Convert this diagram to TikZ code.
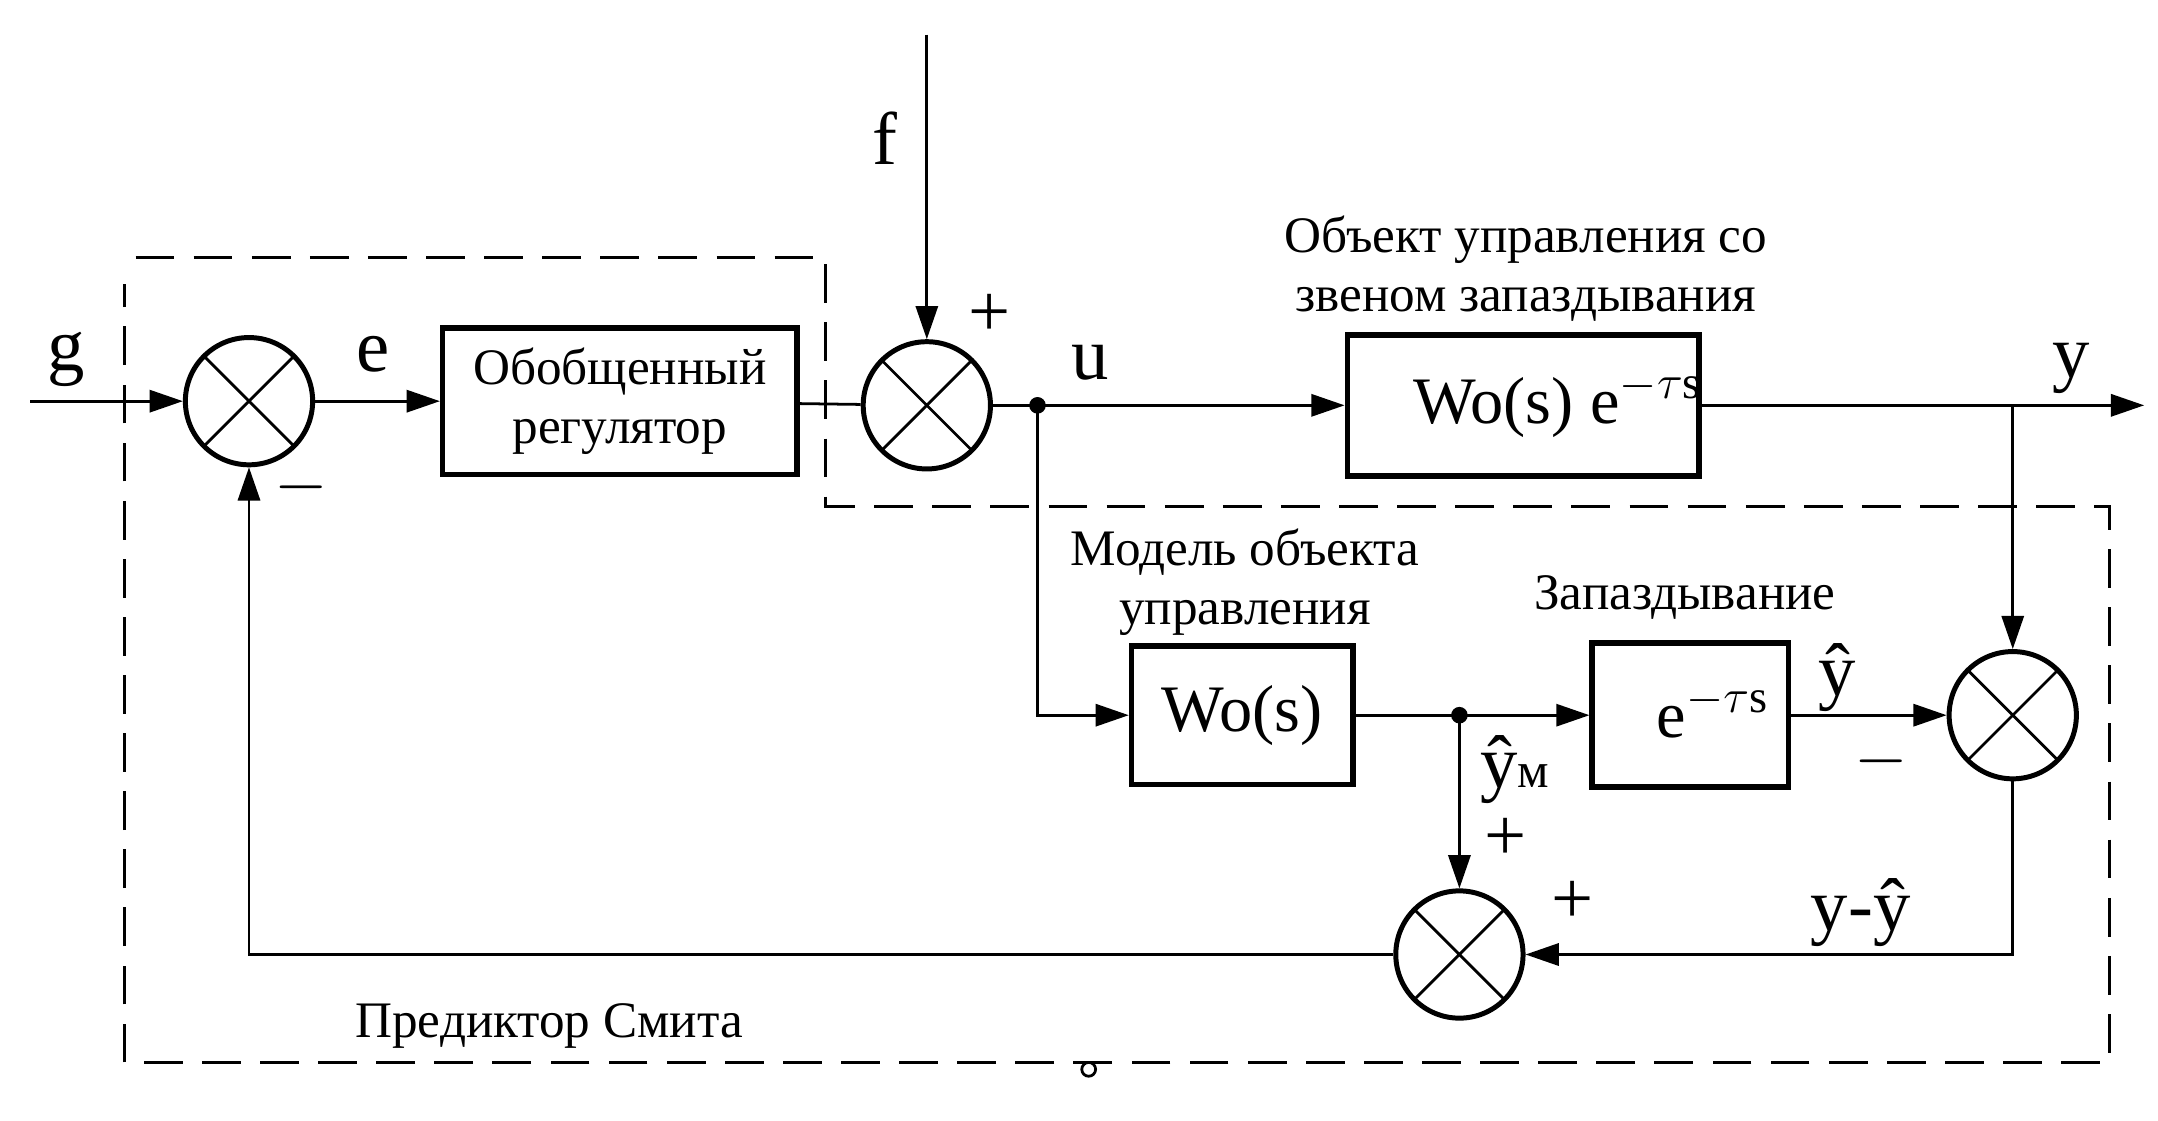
\documentclass[tikz,border=0pt]{standalone}
\usepackage{fontspec}
\setmainfont{Liberation Serif}
\usetikzlibrary{arrows.meta}

\tikzset{every picture/.style={line width=1pt}}
\tikzset{
  blk/.style={draw,line width=2pt,inner sep=0pt},
  summer/.style={draw,circle,line width=1.8pt,minimum size=46pt,inner sep=0pt,
    path picture={\draw[line width=1pt] (path picture bounding box.north west) -- (path picture bounding box.south east)
      (path picture bounding box.north east) -- (path picture bounding box.south west);}},
  sig/.style={-{Triangle[length=12pt,width=8pt]}},
  lbl/.style={inner sep=0pt,font=\fontsize{18.5}{21.5}\selectfont,align=center},
  var/.style={inner sep=0pt,font=\fontsize{27}{30}\selectfont},
  blktext/.style={inner sep=0pt,font=\fontsize{24}{27}\selectfont},
}

\begin{document}
\begin{tikzpicture}[x=0.5pt,y=0.5pt,yscale=-1,xscale=1]
\useasboundingbox (0,0) rectangle (1560,810);

%Dashed frame
\draw [dashed,dash pattern=on 14pt off 7pt] (98,186) -- (597,186) -- (597,366) -- (1525,366) -- (1525,768) -- (90,768) -- (90,205) ;
\draw (787,773) circle (2.5pt) ;

%Summers
\node [summer] (s1) at (180,290) {};
\node [summer] (s2) at (670,293) {};
\node [summer] (s3) at (1455,517) {};
\node [summer] (s4) at (1055,690) {};

%Blocks
\node [blk,minimum width=128pt,minimum height=53pt,lbl] (reg) at (448,290) {Обобщенный\\регулятор};
\node [blk,minimum width=127pt,minimum height=51pt] (plant) at (1101,293) {};
\node [blk,minimum width=80pt,minimum height=50pt] (model) at (898,517) {};
\node [blk,minimum width=71pt,minimum height=52pt] (delay) at (1222,517) {};
\node [blktext] (pt) at (1126,292) {Wo(s) e$^{-\tau\mathrm{s}}$};
\node [blktext] (mt) at (898,517) {Wo(s)};
\node [blktext] (dt) at (1238,514) {e$^{-\tau\mathrm{s}}$};

%Coordinates
\coordinate (gin) at (22,290);
\coordinate (ftop) at (670,25);
\coordinate (du) at (750,293);
\coordinate (dm) at (1055,517);
\coordinate (yb) at (1455,293);
\coordinate (yout) at (1550,293);
\fill (du) circle (3pt) (dm) circle (3pt);

%Connectors
\draw [sig] (gin) -- (s1) ;
\draw [sig] (s1) -- (reg) ;
\draw (reg) -- (s2) ;
\draw [sig] (ftop) -- (s2) ;
\draw [sig] (s2) -- (plant) ;
\draw [sig] (plant) -- (yout) ;
\draw [sig] (yb) -- (s3) ;
\draw [sig] (du) |- (model) ;
\draw [sig] (model) -- (delay) ;
\draw [sig] (delay) -- (s3) ;
\draw [sig] (dm) -- (s4) ;
\draw [sig] (s3) |- (s4) ;
\draw [sig] (s4) -| (s1) ;

% Text Node
\node [var] (lg) at (48,260) {g};
\node [var] (le) at (270,256) {e};
\node [var] (lf) at (640,100) {f};
\node [var] (lu) at (788,262) {u};
\node [var] (ly) at (1497,266) {y};
\node [var] (lyh) at (1328,490) {\^y};
\node [var] (lym) at (1095,556) {\^y{\fontsize{18}{20}\selectfont м}};
\node [var] (lyd) at (1345,660) {y-\^y};
\node [var] (p1) at (715,228) {+};
\node [var] (p2) at (1088,607) {+};
\node [var] (p3) at (1137,652) {+};
\node [var] (m1) at (218,352) {$-$};
\node [var] (m2) at (1360,550) {$-$};
\node [lbl] (tplant) at (1103,194) {Объект управления со\\звеном запаздывания};
\node [lbl] (tmodel) at (900,421) {Модель объекта\\управления};
\node [lbl] (tdelay) at (1218,432) {Запаздывание};
\node [lbl] (tsmith) at (397,742) {Предиктор Смита};
\end{tikzpicture}
\end{document}
